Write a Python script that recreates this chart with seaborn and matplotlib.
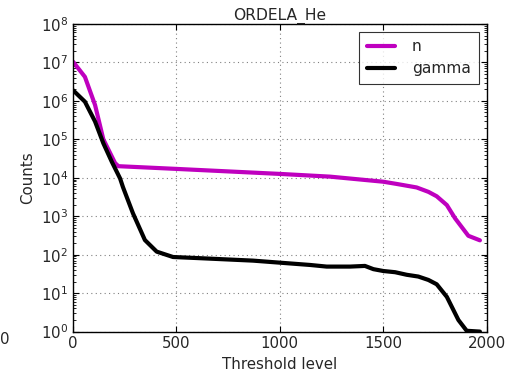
import matplotlib
matplotlib.use("Agg")
import matplotlib.pyplot as plt
import seaborn as sns
import pandas as pd
import numpy as np

# Data
n_x = [0, 58, 107, 147, 204, 220, 500, 1000, 1243, 1500, 1566, 1662, 1719, 1759, 1808, 1848, 1912, 1968]
n_y = [1.05e7, 4.2e6, 7.8e5, 1.0e5, 2.4e4, 2.0e4, 1.7e4, 1.26e4, 1.07e4, 7.9e3, 6.9e3, 5.6e3, 4.3e3, 3.3e3, 1.95e3, 880, 310, 236]

g_x = [0, 58, 107, 147, 188, 228, 242, 290, 348, 405, 484, 615, 871, 1000, 1147, 1227, 1340, 1412, 1453, 1501, 1558, 1614, 1670, 1719, 1759, 1808, 1864, 1904, 1968]
g_y = [1.9e6, 9.5e5, 2.9e5, 7.9e4, 2.6e4, 9.6e3, 5.7e3, 1.2e3, 240, 120, 87, 81, 70, 62, 54, 49, 49, 51, 42, 37.6, 35, 30, 27, 22, 17, 8, 2, 1.05, 1.0]

df = pd.concat([
    pd.DataFrame({"Threshold level": n_x, "Counts": n_y, "series": "n"}),
    pd.DataFrame({"Threshold level": g_x, "Counts": g_y, "series": "gamma"}),
])

sns.set_style("ticks")
plt.rcParams["font.family"] = ["DejaVu Sans"]
plt.rcParams["font.size"] = 10.5

fig = plt.figure(figsize=(5.10, 3.74), dpi=100)
ax = fig.add_axes([0.143, 0.1134, 0.954 - 0.143, 0.936 - 0.1134])

sns.lineplot(data=df, x="Threshold level", y="Counts", hue="series",
             palette={"n": "#bf00bf", "gamma": "black"}, linewidth=3,
             sort=False, estimator=None, ax=ax)

ax.set_yscale("log")
ax.set_xlim(0, 2000)
ax.set_ylim(1, 1e8)
ax.set_xticks([0, 500, 1000, 1500, 2000])
ax.set_yticks([10.0**k for k in range(0, 9)])
ax.set_title("ORDELA_He", fontsize=11.2, pad=3)
ax.set_xlabel("Threshold level", fontsize=10.8)
ax.set_ylabel("Counts", fontsize=10.8)

ax.grid(True, which="major", color="#808080", linestyle=(0, (1, 3)), linewidth=0.8)
for s in ax.spines.values():
    s.set_linewidth(1.0)
    s.set_color("black")
ax.tick_params(which="both", direction="in", top=True, right=True, labelsize=10.8, color="black")
ax.tick_params(which="major", length=4, width=0.8)
ax.tick_params(which="minor", length=2, width=0.6)
ax.tick_params(axis="x", which="minor", bottom=False, top=False)

leg = ax.legend(loc="upper right", frameon=True, fancybox=False, fontsize=11.2,
                handlelength=1.8, borderpad=0.5, labelspacing=0.45, handletextpad=1.1)
leg.get_frame().set_edgecolor("black")
leg.get_frame().set_linewidth(0.8)

fig.text(0.010, 0.091, "0", ha="center", va="center", fontsize=10.8)

fig.savefig("out.png", dpi=100)
